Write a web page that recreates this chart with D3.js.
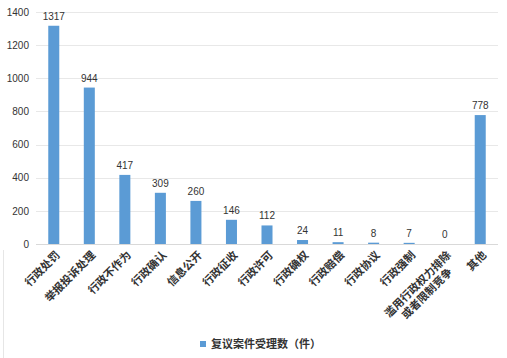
<!DOCTYPE html>
<html><head><meta charset="utf-8">
<script src="https://cdn.jsdelivr.net/npm/d3@7"></script>
<style>body{margin:0;background:#fff}svg{display:block}</style>
</head><body>
<svg id="c" width="507" height="358"></svg>
<script>
const categories = ["行政处罚","举报投诉处理","行政不作为","行政确认","信息公开","行政征收","行政许可","行政确权","行政赔偿","行政协议","行政强制","滥用行政权力排除\n或者限制竞争","其他"];
const values = [1317,944,417,309,260,146,112,24,11,8,7,0,778];
const yTicks = [0,200,400,600,800,1000,1200,1400];
const seriesName = "复议案件受理数（件）";

const svg = d3.select("#c");
const m = {l:36, r:9, t:12, b:114};
const W = 507, H = 358;
const x = d3.scaleBand().domain(categories).range([m.l, W-m.r]).paddingInner(0.69).paddingOuter(0.345);
const y = d3.scaleLinear().domain([0,1400]).range([H-m.b, m.t]);
const font = "'Liberation Sans', Arial, 'Noto Sans CJK SC', sans-serif";
const cjk = "'Noto Sans CJK SC', sans-serif";

svg.append("line").attr("x1",3.5).attr("x2",3.5).attr("y1",250).attr("y2",358).attr("stroke","#e6e6e6");

// gridlines
svg.append("g").selectAll("line").data(yTicks).join("line")
  .attr("x1",m.l).attr("x2",W-m.r)
  .attr("y1",d=>Math.round(y(d))+0.5).attr("y2",d=>Math.round(y(d))+0.5)
  .attr("stroke",d=>d===0?"#d9d9d9":"#e8e8e8").attr("stroke-width",1);

// y axis labels
const ya = svg.append("g").attr("transform",`translate(${m.l-7},0)`)
  .call(d3.axisLeft(y).tickValues(yTicks).tickFormat(d3.format("d")).tickSize(0).tickPadding(0));
ya.select(".domain").remove();
ya.selectAll("text").attr("font-family",font).attr("font-size",10).attr("fill","#333");

// bars
svg.append("g").selectAll("rect").data(values).join("rect")
  .attr("x",(d,i)=>x(categories[i])).attr("width",x.bandwidth())
  .attr("y",d=>y(d)).attr("height",d=>y(0)-y(d))
  .attr("fill","#5b9bd5");

// value labels
svg.append("g").selectAll("text").data(values).join("text")
  .attr("x",(d,i)=>x(categories[i])+x.bandwidth()/2)
  .attr("y",d=>y(d)-6)
  .attr("text-anchor","middle").attr("font-family",font).attr("font-size",10)
  .attr("fill","#333").text(d=>d);

// category labels
const xa = svg.append("g").attr("transform",`translate(0,${y(0)})`)
  .call(d3.axisBottom(x).tickSize(0).tickFormat(""));
xa.select(".domain").remove();
categories.forEach((c,i)=>{
  const cx = x(c)+x.bandwidth()/2 + 4;
  const g = svg.append("g").attr("transform",`translate(${cx},${y(0)+9}) rotate(-45)`);
  const lines = c.split("\n");
  lines.forEach((ln,j)=>{
    const off = (lines[0].length - ln.length)/2*11;
    g.append("text").attr("x",-off).attr("y",j*13+4)
      .attr("text-anchor","end").attr("font-family",cjk).attr("font-size",11)
      .attr("font-weight","700")
      .attr("fill","#333").text(ln);
  });
});

// legend
svg.append("rect").attr("x",200).attr("y",341).attr("width",6).attr("height",6).attr("fill","#5b9bd5");
svg.append("text").attr("x",211).attr("y",348).attr("font-family",cjk).attr("font-size",11)
  .attr("font-weight","700").attr("fill","#333").text(seriesName);
</script>
</body></html>
